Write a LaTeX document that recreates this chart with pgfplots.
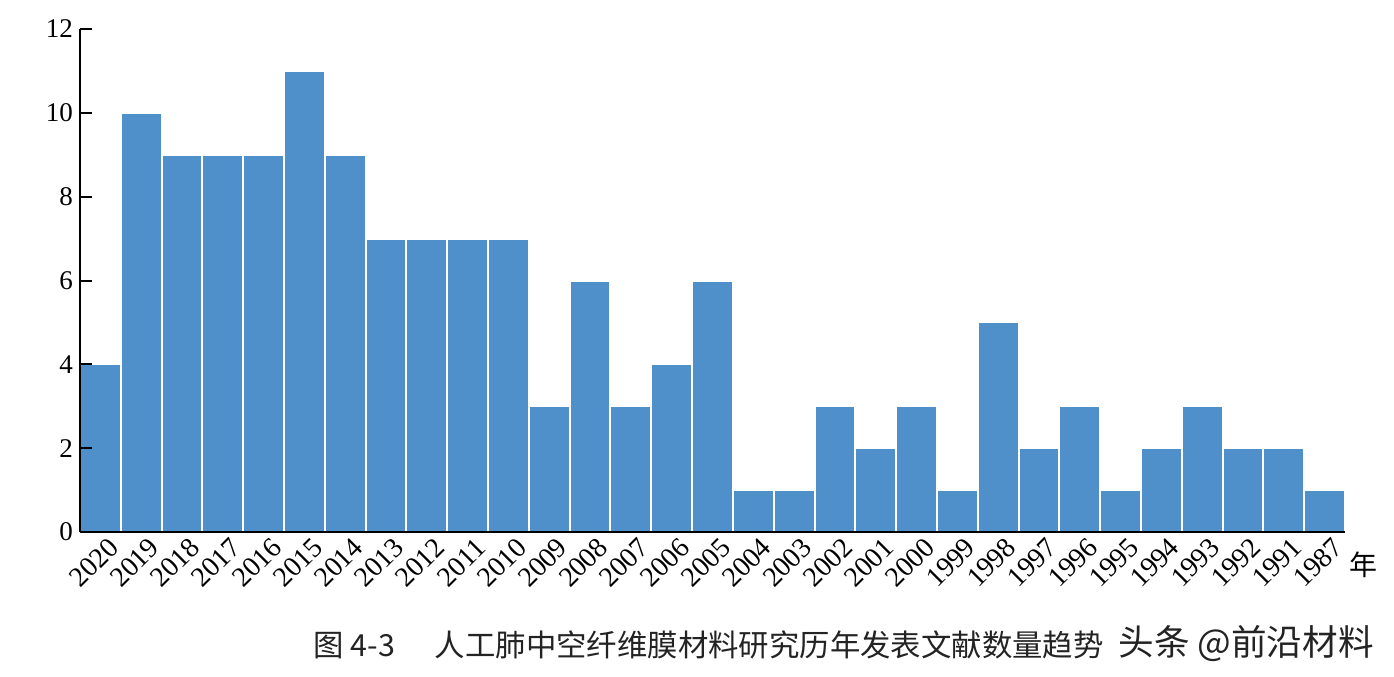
\documentclass[border=0pt]{standalone}
\usepackage{pgfplots}
\pgfplotsset{compat=1.18}
\usepackage{fontspec}
\setmainfont{Liberation Serif}
\newfontfamily\cjk{Noto Sans CJK SC}
\definecolor{barblue}{RGB}{79,143,202}
\definecolor{captxt}{RGB}{35,35,35}
\begin{document}
\begin{tikzpicture}
\useasboundingbox (0pt,0pt) rectangle (697pt,338pt);
\begin{axis}[
  at={(40pt,72pt)}, anchor=south west,
  scale only axis, width=632.5pt, height=251.5pt,
  xmin=-0.5, xmax=30.5, ymin=0, ymax=12,
  axis x line*=bottom, axis y line*=left,
  axis line style={line width=1pt, black},
  ytick={0,2,...,12},
  xtick=data,
  xticklabels={2020,2019,2018,2017,2016,2015,2014,2013,2012,2011,2010,2009,2008,2007,2006,2005,2004,2003,2002,2001,2000,1999,1998,1997,1996,1995,1994,1993,1992,1991,1987},
  x tick label style={rotate=45, anchor=north east, font=\fontsize{14}{14}\selectfont, inner sep=1pt, xshift=2pt, yshift=-2.5pt},
  y tick label style={font=\fontsize{13.5}{13.5}\selectfont, /pgf/number format/assume math mode=true},
  xtick style={draw=none},
  ytick style={line width=1pt, black},
  tick align=inside, major tick length=6pt,
  axis on top,
  enlargelimits=false,
  clip=false,
]
\addplot[ybar, bar width=1, bar shift=0pt, fill=barblue, draw=white, line width=1pt] table[x=i, y=v] {
i v
0 4
1 10
2 9
3 9
4 9
5 11
6 9
7 7
8 7
9 7
10 7
11 3
12 6
13 3
14 4
15 6
16 1
17 1
18 3
19 2
20 3
21 1
22 5
23 2
24 3
25 1
26 2
27 3
28 2
29 2
30 1
};
\end{axis}
\node[font=\cjk\fontsize{14}{14}\selectfont] at (681.5pt,55.5pt) {年};
\node[anchor=west, font=\cjk\fontsize{15.2}{15.2}\selectfont, text=captxt, inner sep=0pt] at (156.5pt,15.5pt) {图 4-3\hspace{20pt}人工肺中空纤维膜材料研究历年发表文献数量趋势};
\node[anchor=west, font=\cjk\fontsize{17.8}{17.8}\selectfont, text=captxt, inner sep=0pt] at (559pt,16pt) {头条 @前沿材料};
\end{tikzpicture}
\end{document}
